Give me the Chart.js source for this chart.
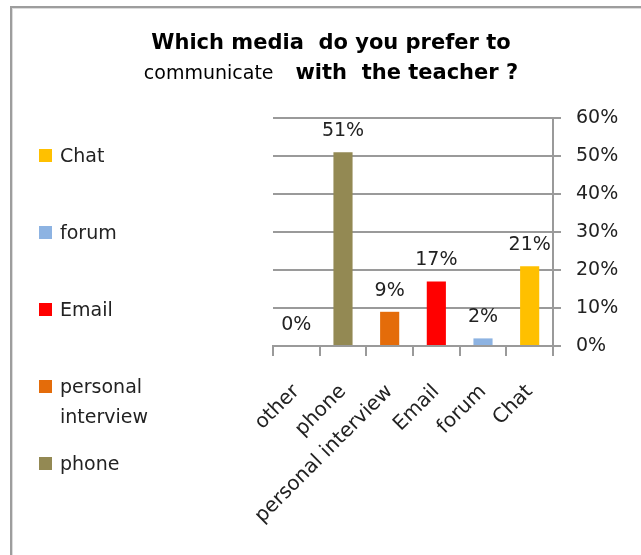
<!DOCTYPE html>
<html>
<head>
<meta charset="utf-8">
<script src="https://cdn.jsdelivr.net/npm/chart.js@4.4.1/dist/chart.umd.min.js"></script>
<style>
  html, body { margin: 0; padding: 0; background: #fff; overflow: hidden; }
  #wrap { position: relative; width: 641px; height: 555px; overflow: hidden; }
  #frame { position: absolute; left: 10px; top: 6px; width: 700px; height: 600px;
           border-left: 2px solid #9d9d9d; border-top: 2px solid #9d9d9d;
           box-shadow: inset 1px 1px 0 #dcdcdc; }
  canvas { position: absolute; left: 0; top: 0; }
  #legend { position: absolute; left: 0; top: 0; font: 19px "DejaVu Sans", sans-serif; color: #222; }
  .item { position: absolute; left: 39px; display: flex; align-items: flex-start; line-height: 30px; }
  .box { width: 13px; height: 13px; margin-top: 9px; margin-right: 8px; flex: none; }
  .txt { max-width: 110px; }
</style>
</head>
<body>
<div id="wrap">
  <div id="frame"></div>
  <canvas id="c" width="641" height="555"></canvas>
  <div id="legend"></div>
</div>
<script>
// Survey answers: share of respondents per preferred medium (percent)
const categories = ['other', 'phone', 'personal interview', 'Email', 'forum', 'Chat'];
const shares = [0, 51, 9, 17, 2, 21];
const barColors = ['#4f81bd', '#938953', '#e46c0a', '#ff0000', '#8db3e2', '#ffc000'];
const yTickStep = 10;
const yMax = 60;
// Legend lists the answers from last to first, "other" left out
const legendOrder = ['Chat', 'forum', 'Email', 'personal interview', 'phone'];

const FONT = '"DejaVu Sans", sans-serif';
const TEXT = '#222';
const LINE = '#9a9a9a';

// Legend (HTML)
const legendEl = document.getElementById('legend');
legendOrder.forEach((name, i) => {
  const idx = categories.indexOf(name);
  const item = document.createElement('div');
  item.className = 'item';
  item.style.top = (140 + i * 77) + 'px';
  const box = document.createElement('span');
  box.className = 'box';
  box.style.background = barColors[idx];
  const txt = document.createElement('span');
  txt.className = 'txt';
  txt.textContent = name;
  item.appendChild(box);
  item.appendChild(txt);
  legendEl.appendChild(item);
});

// Two-line title with mixed weights
const titleLines = [
  [{ text: 'Which media  do you prefer to', font: 'bold 21px ' + FONT }],
  [{ text: 'communicate', font: '19px ' + FONT },
   { text: '   with  the teacher ?', font: 'bold 21px ' + FONT }]
];
const titlePlugin = {
  id: 'mixedTitle',
  afterDraw(chart) {
    const ctx = chart.ctx;
    const cx = 331;
    const baselines = [49, 79];
    ctx.save();
    ctx.fillStyle = '#000';
    ctx.textBaseline = 'alphabetic';
    ctx.textAlign = 'left';
    titleLines.forEach((runs, li) => {
      let total = 0;
      runs.forEach(r => { ctx.font = r.font; r.w = ctx.measureText(r.text).width; total += r.w; });
      let x = cx - total / 2;
      runs.forEach(r => { ctx.font = r.font; ctx.fillText(r.text, x, baselines[li]); x += r.w; });
    });
    ctx.restore();
  }
};

// Percentage above each bar
const valueLabels = {
  id: 'valueLabels',
  afterDatasetsDraw(chart) {
    const ctx = chart.ctx;
    const meta = chart.getDatasetMeta(0);
    ctx.save();
    ctx.font = '19px ' + FONT;
    ctx.fillStyle = TEXT;
    ctx.textAlign = 'center';
    ctx.textBaseline = 'alphabetic';
    meta.data.forEach((bar, i) => {
      ctx.fillText(shares[i] + '%', bar.x, bar.y - 16);
    });
    ctx.restore();
  }
};

new Chart(document.getElementById('c'), {
  type: 'bar',
  data: {
    labels: categories,
    datasets: [{
      data: shares,
      backgroundColor: barColors,
      borderWidth: 0,
      barPercentage: 0.41,
      categoryPercentage: 1
    }]
  },
  options: {
    responsive: false,
    animation: false,
    devicePixelRatio: 1,
    layout: { padding: { left: 273, top: 118, right: 0, bottom: 0 } },
    plugins: { legend: { display: false }, tooltip: { enabled: false }, title: { display: false } },
    scales: {
      x: {
        offset: true,
        grid: { drawOnChartArea: false, drawTicks: true, tickLength: 10, color: LINE, lineWidth: 2, offset: true },
        border: { color: LINE, width: 2 },
        ticks: { font: { family: FONT, size: 20 }, color: TEXT, minRotation: 45, maxRotation: 45,
                 autoSkip: false, padding: 24 },
        afterFit(scale) { scale.height = 209; }
      },
      y: {
        position: 'right',
        min: 0,
        max: yMax,
        ticks: { stepSize: yTickStep, callback: v => v + '%', padding: 15,
                 font: { family: FONT, size: 19 }, color: TEXT },
        grid: { color: LINE, lineWidth: 2, tickLength: 8 },
        border: { color: LINE, width: 2 },
        afterFit(scale) { scale.width = 88; }
      }
    }
  },
  plugins: [titlePlugin, valueLabels]
});
</script>
</body>
</html>
